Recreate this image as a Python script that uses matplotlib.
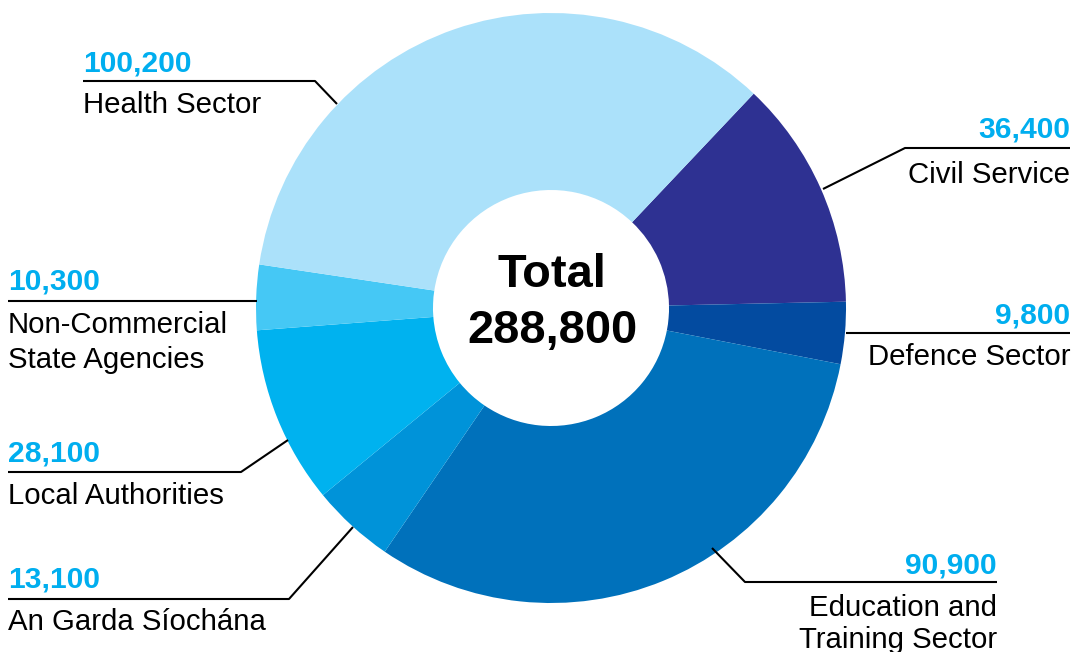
import matplotlib.pyplot as plt

plt.rcParams['font.family'] = ['Liberation Sans', 'DejaVu Sans']

# public service employment by sector, clockwise from Civil Service
sectors = ['Civil Service', 'Defence Sector', 'Education and\nTraining Sector',
           'An Garda Síochána', 'Local Authorities',
           'Non-Commercial\nState Agencies', 'Health Sector']
staff = [36400, 9800, 90900, 13100, 28100, 10300, 100200]
colors = ['#2e3192', '#034ba0', '#0071bb', '#0093d9', '#00b2ef',
          '#45c8f5', '#abe1fa']
total = sum(staff)

W, H = 1076, 652
fig = plt.figure(figsize=(W / 100, H / 100), dpi=100)
ax = fig.add_axes([0, 0, 1, 1])

cx, cy, r_out, r_in = 551, H - 308, 295, 118
ax.pie(staff, colors=colors, startangle=46.6, counterclock=False,
       center=(cx, cy), radius=r_out,
       wedgeprops=dict(width=r_out - r_in, linewidth=0))

ax.text(cx + 1, H - 287, 'Total', ha='center', va='baseline',
        fontsize=33.8, fontweight='bold', color='black')
ax.text(cx + 1, H - 343, f'{total:,}', ha='center', va='baseline',
        fontsize=33.8, fontweight='bold', color='black')

# label layout in pixel coordinates (y from top): anchor x, alignment,
# value baseline, name line baselines, leader line points
labels = {
    'Health Sector': (83, 'left', 72, [113], [(83, 81), (315, 81), (337, 104)]),
    'Civil Service': (1070, 'right', 138, [183], [(1070, 148), (905, 148), (823, 189)]),
    'Defence Sector': (1070, 'right', 323, [365], [(1070, 333), (846, 333)]),
    'Education and\nTraining Sector': (997, 'right', 573, [616, 648],
                                       [(997, 582), (745, 582), (712, 548)]),
    'An Garda Síochána': (8, 'left', 588, [630], [(8, 599), (289, 599), (353, 527)]),
    'Local Authorities': (8, 'left', 462, [504], [(8, 472), (241, 472), (288, 440)]),
    'Non-Commercial\nState Agencies': (8, 'left', 289, [333, 368],
                                       [(8, 301), (257, 301)]),
}

for name, value in zip(sectors, staff):
    x, ha, y_val, y_names, pts = labels[name]
    ax.text(x, H - y_val, f'{value:,}', ha=ha, va='baseline',
            fontsize=21.6, fontweight='bold', color='#00aeef')
    for line, y in zip(name.split('\n'), y_names):
        ax.text(x, H - y, line, ha=ha, va='baseline',
                fontsize=21.2, color='black')
    ax.plot([p[0] for p in pts], [H - p[1] for p in pts],
            color='black', linewidth=1.5, solid_capstyle='butt')

ax.set_xlim(0, W)
ax.set_ylim(0, H)
ax.set_aspect('auto')
ax.axis('off')

fig.savefig('out.png', dpi=100, facecolor='white')
